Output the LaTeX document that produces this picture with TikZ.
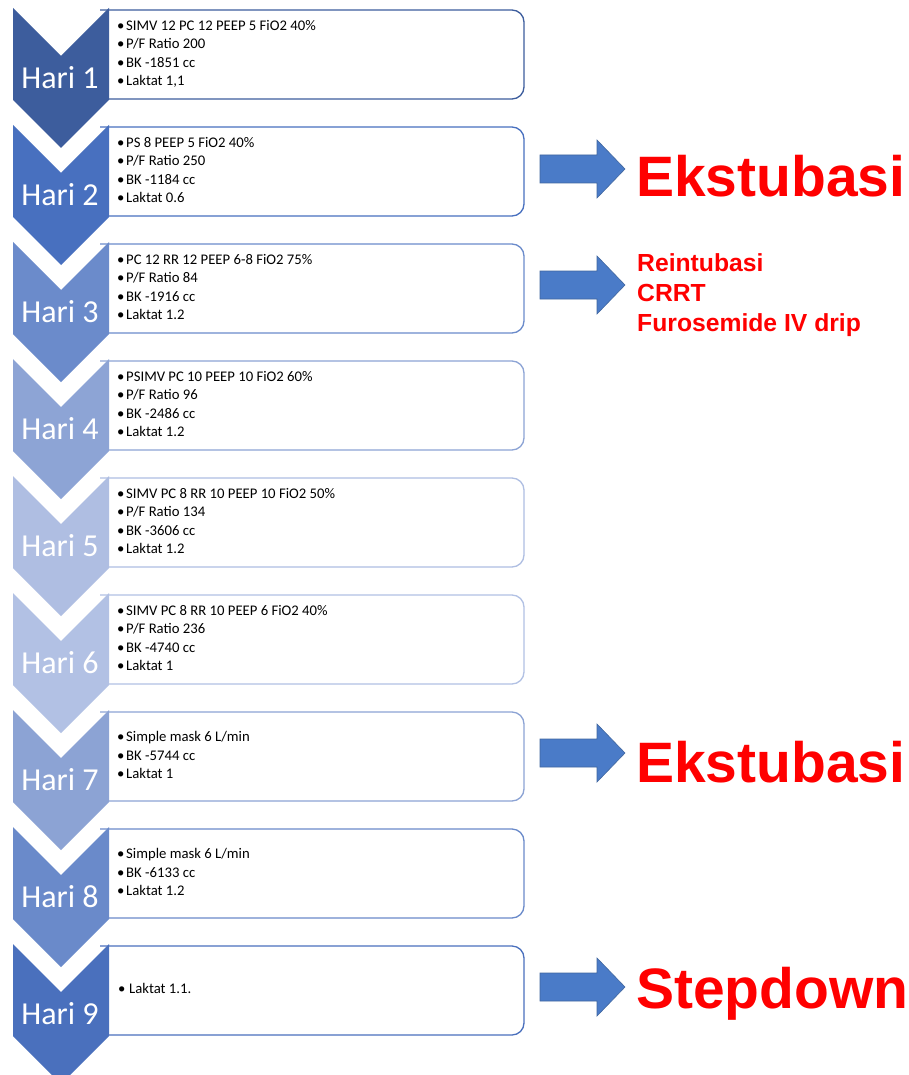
\documentclass[tikz,border=0pt]{standalone}
\usepackage{fontspec}
\setmainfont{Carlito}
\newfontfamily\arialfont{Liberation Sans}
\definecolor{c1}{HTML}{3D5D9D}
\definecolor{c2}{HTML}{4870BF}
\definecolor{c3}{HTML}{6B8BCB}
\definecolor{c4}{HTML}{8DA4D5}
\definecolor{c5}{HTML}{AFBEE2}
\definecolor{c6}{HTML}{B2C1E4}
\definecolor{c7}{HTML}{8CA3D4}
\definecolor{c8}{HTML}{6A8ACA}
\definecolor{c9}{HTML}{4A70BD}
\definecolor{arrowblue}{HTML}{4A7BC8}
\definecolor{arrowedge}{HTML}{41679F}
\definecolor{redtxt}{HTML}{FF0000}
\tikzset{
  info/.style={anchor=base west, inner sep=0pt, font=\fontsize{14.7}{17}\selectfont},
  haritext/.style={text=white, inner sep=0pt, font=\fontsize{32}{38}\selectfont},
  bigred/.style={anchor=base west, inner sep=0pt, text=redtxt, font=\arialfont\bfseries\fontsize{57}{60}\selectfont},
  midred/.style={anchor=base west, inner sep=0pt, text=redtxt, font=\arialfont\bfseries\fontsize{24.7}{30}\selectfont},
  blockarrow/.style={fill=arrowblue, draw=arrowedge, line width=0.6pt},
}
\newcommand\infolines[3]{%
  \foreach \t [count=\i] in {#3}{
    \node[info] (#1-\i) at (117,{#2+18.5*(\i-1)}) {\makebox[9pt][l]{•}\t};
  }%
}
\newcommand\blockarrowat[1]{%
  \path[blockarrow] (540,#1-14) -- (597,#1-14) -- (597,#1-29) -- (625,#1) -- (597,#1+29) -- (597,#1+14) -- (540,#1+14) -- cycle;%
}
\begin{document}
\begin{tikzpicture}[x=1pt,y=-1pt]
\useasboundingbox (0,0) rectangle (909,1075);
\fill[white] (0,0) rectangle (909,1075);
\foreach \k/\col in {1/c1,2/c2,3/c3,4/c4,5/c5,6/c6,7/c7,8/c8,9/c9}{
  \pgfmathsetmacro\yo{8+117*(\k-1)}
  \pgfmathsetmacro\ya{\yo+2}
  \pgfmathsetmacro\yb{\yo+91}
  \draw[draw=\col, line width=1.3pt, fill=white]
    (100,\ya) [rounded corners=12pt] -- (524,\ya) -- (524,\yb) [sharp corners] -- (100,\yb);
  \fill[\col] (13,\yo) -- (61,\yo+48) -- (109,\yo) -- (109,\yo+92) -- (61,\yo+140) -- (13,\yo+92) -- cycle;
  \node[haritext] (hari\k) at (60,\yo+70) {Hari \k};
}
% box texts
\infolines{b1}{30.3}{SIMV 12 PC 12 PEEP 5 FiO2 40\%, P/F Ratio 200, BK -1851 cc, {Laktat 1,1}}
\infolines{b2}{147.3}{PS 8 PEEP 5 FiO2 40\%, P/F Ratio 250, BK -1184 cc, Laktat 0.6}
\infolines{b3}{264.3}{PC 12 RR 12 PEEP 6-8 FiO2 75\%, P/F Ratio 84, BK -1916 cc, Laktat 1.2}
\infolines{b4}{381.3}{PSIMV PC 10 PEEP 10 FiO2 60\%, P/F Ratio 96, BK -2486 cc, Laktat 1.2}
\infolines{b5}{498.3}{SIMV PC 8 RR 10 PEEP 10 FiO2 50\%, P/F Ratio 134, BK -3606 cc, Laktat 1.2}
\infolines{b6}{615.3}{SIMV PC 8 RR 10 PEEP 6 FiO2 40\%, P/F Ratio 236, BK -4740 cc, Laktat 1}
\infolines{b7}{741.7}{Simple mask 6 L/min, BK -5744 cc, Laktat 1}
\infolines{b8}{858.7}{Simple mask 6 L/min, BK -6133 cc, Laktat 1.2}
\node[info] (b9-1) at (118,993) {\makebox[11pt][l]{•}Laktat 1.1.};
% arrows
\blockarrowat{169}
\blockarrowat{285}
\blockarrowat{753}
\blockarrowat{987}
% red labels
\node[bigred] (eks1) at (636,197) {Ekstubasi};
\node[midred] (re1) at (637,271) {Reintubasi};
\node[midred] (re2) at (637,301) {CRRT};
\node[midred] (re3) at (637,331) {Furosemide IV drip};
\node[bigred] (eks2) at (636,782) {Ekstubasi};
\node[bigred] (step) at (636,1008) {Stepdown};
\end{tikzpicture}
\end{document}
